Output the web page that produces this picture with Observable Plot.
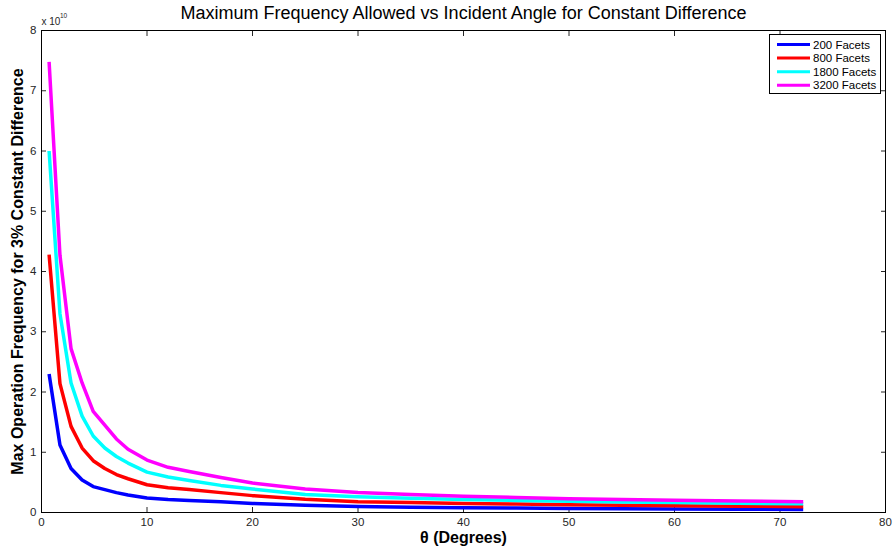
<!DOCTYPE html>
<html>
<head>
<meta charset="utf-8">
<script src="https://cdn.jsdelivr.net/npm/d3@7"></script>
<script src="https://cdn.jsdelivr.net/npm/@observablehq/plot@0.6"></script>
<style>
  html, body { margin: 0; padding: 0; background: #fff; }
  #chart svg { display: block; }
</style>
</head>
<body>
<div id="chart"></div>
<script>
// Incident angle samples (degrees)
const angles = [0.72, 1.75, 2.8, 3.85, 4.9, 6.0, 7.1, 8.2, 10, 12, 14, 17, 20, 25, 30, 35, 40, 45, 50, 55, 60, 66, 72.2];

// Max operation frequency (units of 1e10 Hz) for each facet count
const facets200  = [2.30, 1.12, 0.73, 0.54, 0.43, 0.38, 0.33, 0.29, 0.24, 0.215, 0.20, 0.18, 0.15, 0.12, 0.10, 0.088, 0.08, 0.073, 0.068, 0.063, 0.06, 0.055, 0.05];
const facets800  = [4.28, 2.14, 1.43, 1.07, 0.86, 0.73, 0.63, 0.56, 0.46, 0.41, 0.38, 0.33, 0.28, 0.22, 0.18, 0.165, 0.15, 0.14, 0.13, 0.12, 0.113, 0.105, 0.097];
const facets1800 = [6.00, 3.30, 2.15, 1.60, 1.27, 1.07, 0.93, 0.82, 0.67, 0.59, 0.53, 0.45, 0.39, 0.30, 0.26, 0.235, 0.215, 0.20, 0.185, 0.175, 0.165, 0.155, 0.145];
const facets3200 = [7.48, 4.27, 2.72, 2.15, 1.68, 1.45, 1.22, 1.05, 0.87, 0.75, 0.68, 0.58, 0.49, 0.39, 0.33, 0.30, 0.27, 0.25, 0.23, 0.215, 0.205, 0.19, 0.18];

const seriesNames = ["200 Facets", "800 Facets", "1800 Facets", "3200 Facets"];
const seriesColors = ["#0000ff", "#ff0000", "#00ffff", "#ff00ff"];
const seriesValues = [facets200, facets800, facets1800, facets3200];

const xTicks = [0, 10, 20, 30, 40, 50, 60, 70, 80];
const yTicks = [0, 1, 2, 3, 4, 5, 6, 7, 8];

const titleText = "Maximum Frequency Allowed vs Incident Angle for Constant Difference";
const xLabel = "\u03b8 (Degrees)";
const yLabel = "Max Operation Frequency for 3% Constant Difference";

const rows = seriesNames.flatMap((name, s) =>
  angles.map((a, i) => ({series: name, angle: a, value: seriesValues[s][i]}))
);

const font = "'Liberation Sans', Arial, Helvetica, sans-serif";
const tickColor = "#262626";

const chart = Plot.plot({
  width: 893,
  height: 550,
  marginLeft: 41,
  marginRight: 8,
  marginTop: 30,
  marginBottom: 38,
  style: {fontFamily: font, fontSize: "11.5px", color: tickColor, background: "#fff"},
  x: {domain: [0, 80]},
  y: {domain: [0, 8]},
  color: {domain: seriesNames, range: seriesColors},
  marks: [
    // tick labels
    Plot.axisX({anchor: "bottom", ticks: xTicks, tickSize: 0, tickPadding: 5, label: null}),
    Plot.axisY({anchor: "left", ticks: yTicks, tickSize: 0, tickPadding: 5, label: null}),
    // inward tick marks on all four sides
    Plot.axisX({anchor: "bottom", ticks: xTicks, tickSize: 5, dy: -5, tickFormat: () => "", label: null, stroke: tickColor}),
    Plot.axisX({anchor: "top", ticks: xTicks, tickSize: 5, dy: 5, tickFormat: () => "", label: null, stroke: tickColor}),
    Plot.axisY({anchor: "left", ticks: yTicks, tickSize: 5, dx: 5, tickFormat: () => "", label: null, stroke: tickColor}),
    Plot.axisY({anchor: "right", ticks: yTicks, tickSize: 5, dx: -5, tickFormat: () => "", label: null, stroke: tickColor}),
    Plot.line(rows, {x: "angle", y: "value", z: "series", stroke: "series", strokeWidth: 3.5, strokeLinejoin: "round", strokeLinecap: "butt"}),
    Plot.frame({stroke: "#000", strokeWidth: 1}),
    // titles
    Plot.text([titleText], {frameAnchor: "top", dy: -17, textAnchor: "middle", lineAnchor: "middle", fontSize: 18, fill: "#000"}),
    Plot.text([xLabel], {frameAnchor: "bottom", dy: 25, textAnchor: "middle", lineAnchor: "middle", fontSize: 16, fontWeight: "bold", fill: "#000"}),
    Plot.text([yLabel], {frameAnchor: "left", dx: -24, rotate: -90, textAnchor: "middle", lineAnchor: "middle", fontSize: 16, fontWeight: "bold", fill: "#000"}),
    // exponent marker
    Plot.text(["x 10"], {frameAnchor: "top-left", dx: 0, dy: -9, textAnchor: "start", lineAnchor: "middle", fontSize: 10, fill: tickColor}),
    Plot.text(["10"], {frameAnchor: "top-left", dx: 18.5, dy: -14.5, textAnchor: "start", lineAnchor: "middle", fontSize: 6.5, fill: tickColor})
  ]
});

document.getElementById("chart").append(chart);

// Boxed legend in the upper-right corner of the axes
const svg = d3.select(chart);
const lg = svg.append("g")
  .attr("font-family", font)
  .attr("font-size", 11.5)
  .attr("text-anchor", "start");
lg.append("rect")
  .attr("x", 769.5).attr("y", 34.5).attr("width", 111).attr("height", 59)
  .attr("fill", "#fff").attr("stroke", "#000").attr("stroke-width", 1);
seriesNames.forEach((name, i) => {
  const y = 44.5 + i * 13.6;
  lg.append("line")
    .attr("x1", 777).attr("x2", 810).attr("y1", y).attr("y2", y)
    .attr("stroke", seriesColors[i]).attr("stroke-width", 3);
  lg.append("text")
    .attr("x", 813).attr("y", y).attr("dy", "0.35em")
    .attr("text-anchor", "start")
    .attr("fill", "#000").text(name);
});
</script>
</body>
</html>
